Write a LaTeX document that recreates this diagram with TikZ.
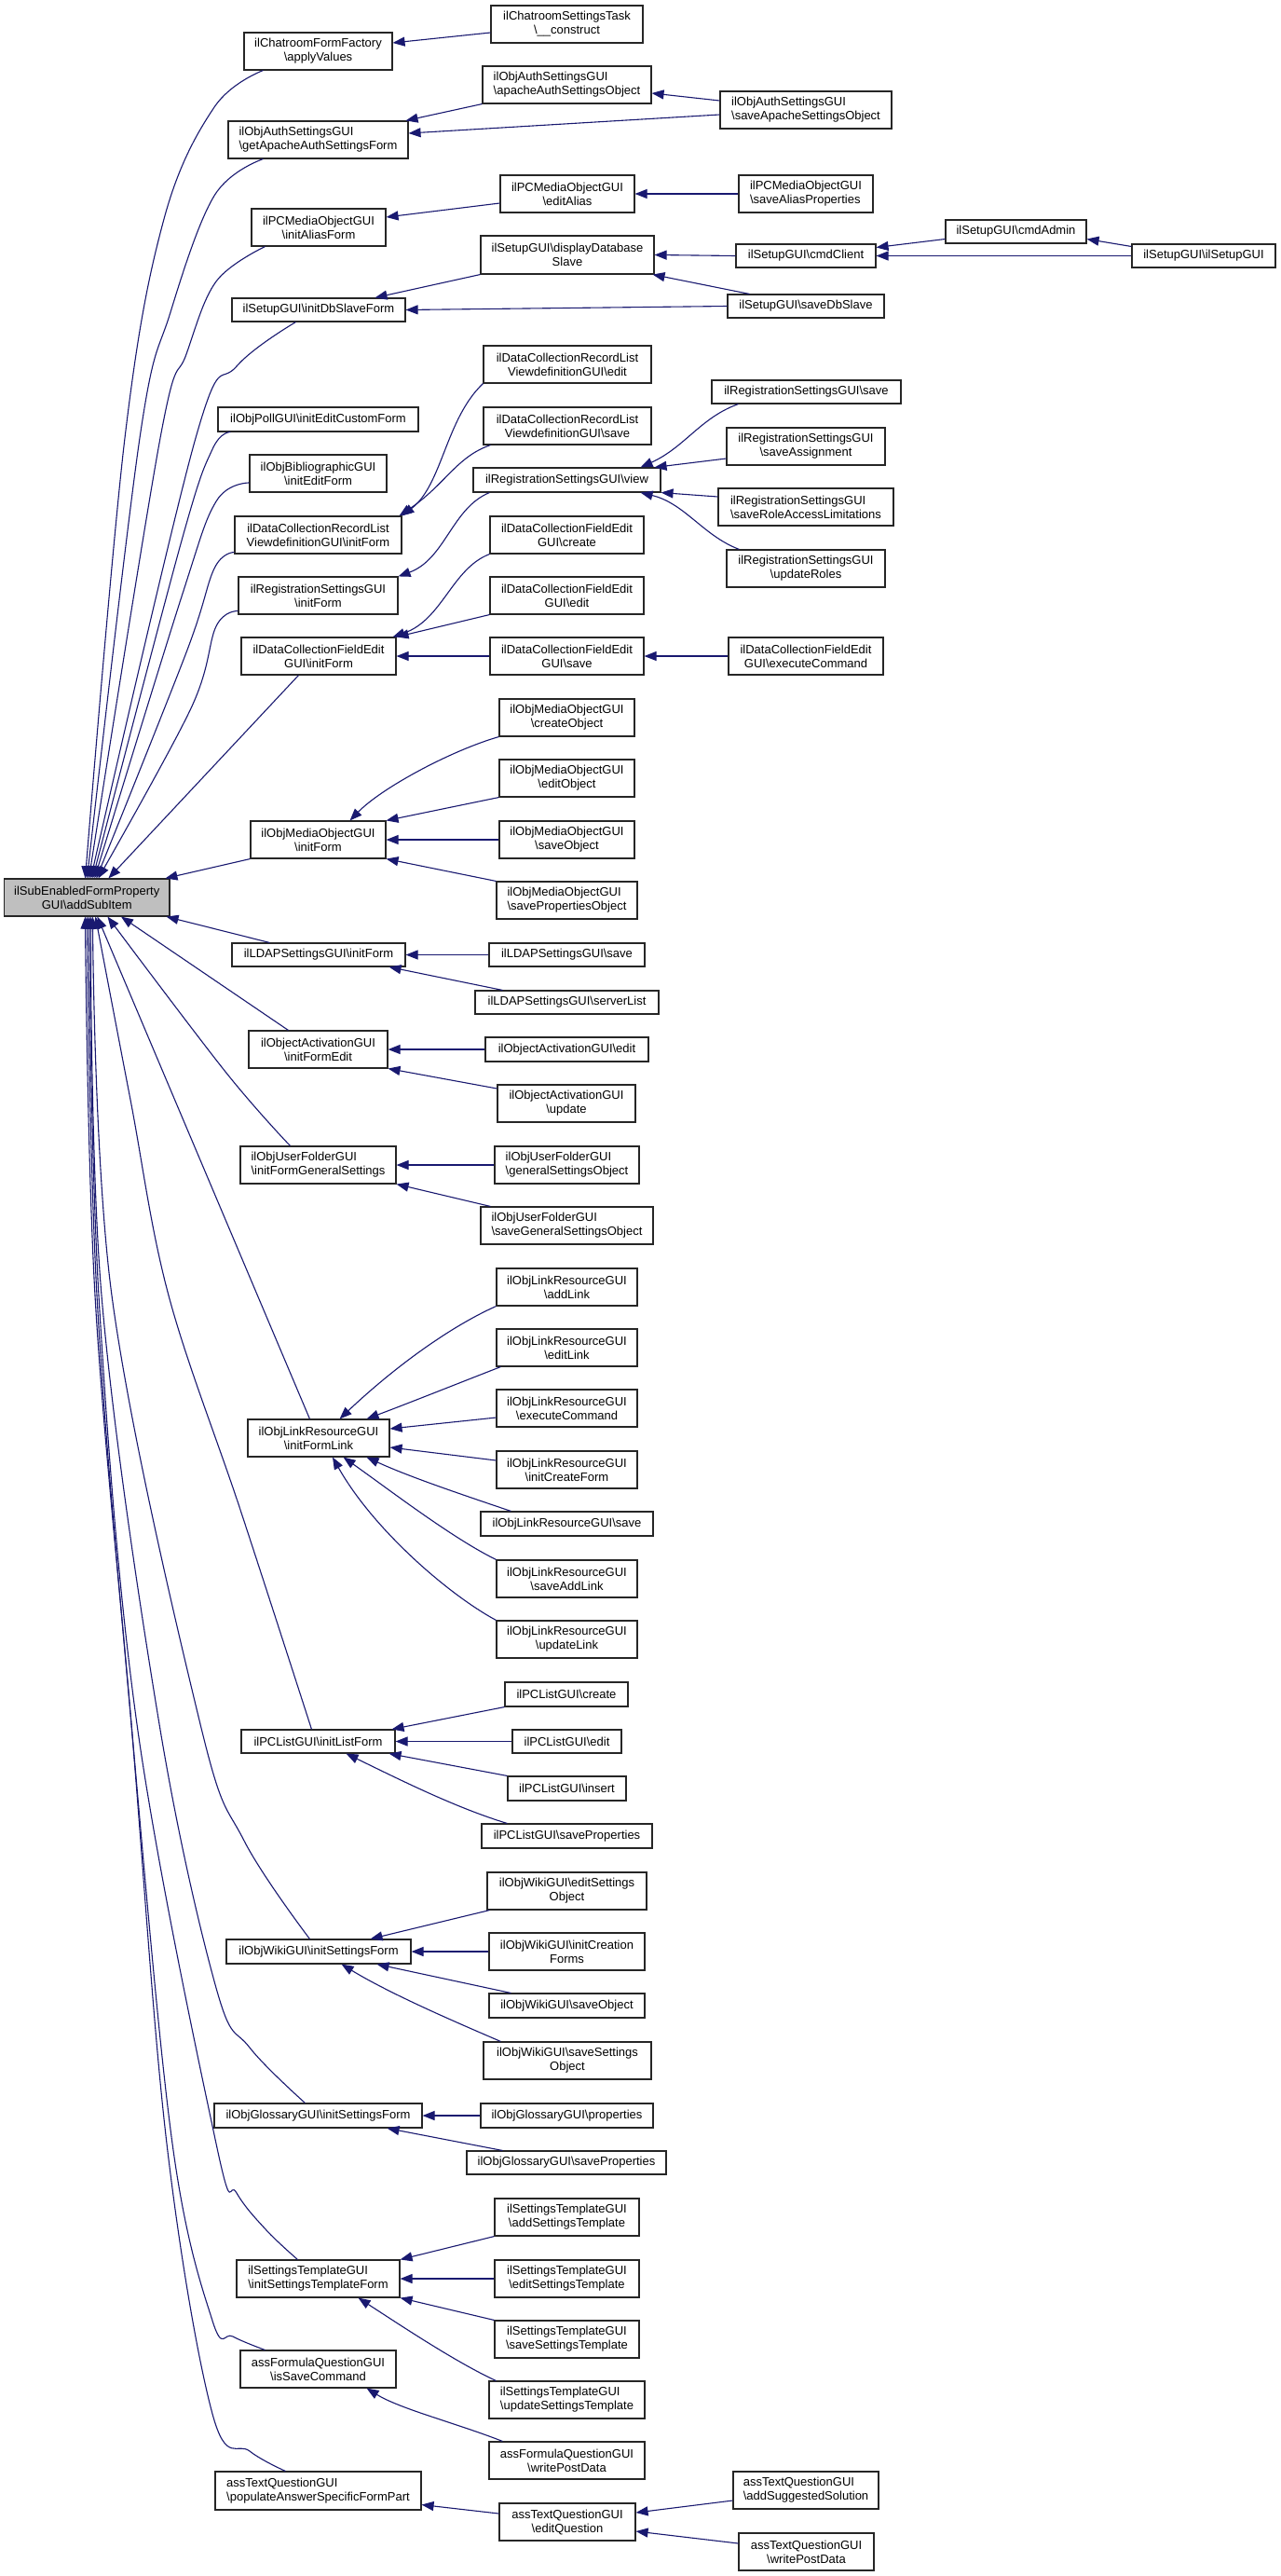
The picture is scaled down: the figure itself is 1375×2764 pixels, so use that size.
\documentclass[tikz,border=0pt]{standalone}
\usepackage{fontspec}
\setmainfont{Liberation Sans}
\usetikzlibrary{arrows.meta}
\definecolor{edgeblue}{HTML}{191970}
\definecolor{rootgray}{HTML}{BFBFBF}
\tikzset{
  box/.style={draw=black!85, line width=1.1pt, fill=white, inner sep=0pt, align=center, font=\fontsize{13pt}{15pt}\selectfont},
  lbox/.style={box, align=left},
  rootbox/.style={box, fill=rootgray},
  conn/.style={draw=edgeblue, line width=1.1pt, -{Triangle[length=13pt,width=10pt]}},
}
\newcommand{\dbox}[7][box]{\node[#1, minimum width={(#5-#4)*1pt}, minimum height={(#7-#6)*1pt}] (#2) at ({(#4+#5)/2},{(#6+#7)/2}) {#3};}
\newcommand{\bs}{\textbackslash}
\begin{document}
\begin{tikzpicture}[x=1pt,y=-1pt]
\fill[white] (0,0) rectangle (1375,2764);
\useasboundingbox (0,0) rectangle (1375,2764);

% root
\dbox[rootbox]{R}{ilSubEnabledFormProperty\\GUI\bs addSubItem}{4.5}{182}{943}{983}

% column 2
\dbox{a1}{ilChatroomFormFactory\\\bs applyValues}{262}{421}{35}{75}
\dbox[lbox]{a2}{ilObjAuthSettingsGUI\\\bs getApacheAuthSettingsForm}{245}{438}{130}{170}
\dbox{a3}{ilPCMediaObjectGUI\\\bs initAliasForm}{270}{414}{224}{264}
\dbox{a4}{ilSetupGUI\bs initDbSlaveForm}{249}{435}{320}{345}
\dbox{a5}{ilObjPollGUI\bs initEditCustomForm}{234}{449}{437}{463}
\dbox{a6}{ilObjBibliographicGUI\\\bs initEditForm}{268}{415}{488}{528}
\dbox{a7}{ilDataCollectionRecordList\\ViewdefinitionGUI\bs initForm}{252}{431}{554}{594}
\dbox{a8}{ilRegistrationSettingsGUI\\\bs initForm}{256}{427}{619}{659}
\dbox{a9}{ilDataCollectionFieldEdit\\GUI\bs initForm}{259}{425}{684}{724}
\dbox{a10}{ilObjMediaObjectGUI\\\bs initForm}{269}{414}{881}{921}
\dbox{a11}{ilLDAPSettingsGUI\bs initForm}{249}{435}{1012}{1037}
\dbox{a12}{ilObjectActivationGUI\\\bs initFormEdit}{267}{416}{1106}{1146}
\dbox[lbox]{a13}{ilObjUserFolderGUI\\\bs initFormGeneralSettings}{258}{425}{1230}{1270}
\dbox{a14}{ilObjLinkResourceGUI\\\bs initFormLink}{266}{418}{1523}{1563}
\dbox{a15}{ilPCListGUI\bs initListForm}{259}{424}{1856}{1881}
\dbox{a16}{ilObjWikiGUI\bs initSettingsForm}{243}{441}{2081}{2107}
\dbox{a17}{ilObjGlossaryGUI\bs initSettingsForm}{230}{453}{2257}{2283}
\dbox[lbox]{a18}{ilSettingsTemplateGUI\\\bs initSettingsTemplateForm}{254}{429}{2425}{2465}
\dbox{a19}{assFormulaQuestionGUI\\\bs isSaveCommand}{258}{425}{2522}{2562}
\dbox[lbox]{a20}{assTextQuestionGUI\\\bs populateAnswerSpecificFormPart}{231}{452}{2652}{2693}

% column 3
\dbox{b1}{ilChatroomSettingsTask\\\bs\_\_construct}{527}{690}{6}{46}
\dbox[lbox]{b2}{ilObjAuthSettingsGUI\\\bs apacheAuthSettingsObject}{518}{699}{71}{111}
\dbox{b3}{ilPCMediaObjectGUI\\\bs editAlias}{537}{681}{188}{228}
\dbox{b4}{ilSetupGUI\bs displayDatabase\\Slave}{516}{702}{253}{294}
\dbox{b5}{ilDataCollectionRecordList\\ViewdefinitionGUI\bs edit}{519}{699}{371}{411}
\dbox{b6}{ilDataCollectionRecordList\\ViewdefinitionGUI\bs save}{519}{699}{437}{477}
\dbox{b7}{ilRegistrationSettingsGUI\bs view}{508}{709}{502}{528}
\dbox{b8}{ilDataCollectionFieldEdit\\GUI\bs create}{526}{691}{554}{594}
\dbox{b9}{ilDataCollectionFieldEdit\\GUI\bs edit}{526}{691}{619}{659}
\dbox{b10}{ilDataCollectionFieldEdit\\GUI\bs save}{526}{691}{684}{724}
\dbox{b11}{ilObjMediaObjectGUI\\\bs createObject}{536}{681}{750}{790}
\dbox{b12}{ilObjMediaObjectGUI\\\bs editObject}{536}{681}{815}{855}
\dbox{b13}{ilObjMediaObjectGUI\\\bs saveObject}{536}{681}{881}{921}
\dbox[lbox]{b14}{ilObjMediaObjectGUI\\\bs savePropertiesObject}{533}{684}{946}{986}
\dbox{b15}{ilLDAPSettingsGUI\bs save}{525}{692}{1012}{1037}
\dbox{b16}{ilLDAPSettingsGUI\bs serverList}{510}{707}{1063}{1088}
\dbox{b17}{ilObjectActivationGUI\bs edit}{521}{696}{1113}{1139}
\dbox{b18}{ilObjectActivationGUI\\\bs update}{534}{682}{1164}{1204}
\dbox[lbox]{b19}{ilObjUserFolderGUI\\\bs generalSettingsObject}{531}{686}{1230}{1270}
\dbox[lbox]{b20}{ilObjUserFolderGUI\\\bs saveGeneralSettingsObject}{516}{701}{1295}{1335}
\dbox{b21}{ilObjLinkResourceGUI\\\bs addLink}{533}{684}{1361}{1401}
\dbox{b22}{ilObjLinkResourceGUI\\\bs editLink}{533}{684}{1426}{1466}
\dbox{b23}{ilObjLinkResourceGUI\\\bs executeCommand}{533}{684}{1491}{1531}
\dbox{b24}{ilObjLinkResourceGUI\\\bs initCreateForm}{533}{684}{1557}{1597}
\dbox{b25}{ilObjLinkResourceGUI\bs save}{516}{701}{1622}{1648}
\dbox{b26}{ilObjLinkResourceGUI\\\bs saveAddLink}{533}{684}{1674}{1714}
\dbox{b27}{ilObjLinkResourceGUI\\\bs updateLink}{533}{684}{1739}{1779}
\dbox{b28}{ilPCListGUI\bs create}{542}{674}{1805}{1831}
\dbox{b29}{ilPCListGUI\bs edit}{550}{667}{1856}{1881}
\dbox{b30}{ilPCListGUI\bs insert}{545}{672}{1906}{1932}
\dbox{b31}{ilPCListGUI\bs saveProperties}{517}{700}{1957}{1983}
\dbox{b32}{ilObjWikiGUI\bs editSettings\\Object}{523}{694}{2009}{2049}
\dbox{b33}{ilObjWikiGUI\bs initCreation\\Forms}{525}{692}{2074}{2114}
\dbox{b34}{ilObjWikiGUI\bs saveObject}{525}{692}{2139}{2165}
\dbox{b35}{ilObjWikiGUI\bs saveSettings\\Object}{519}{699}{2191}{2231}
\dbox{b36}{ilObjGlossaryGUI\bs properties}{516}{701}{2257}{2283}
\dbox{b37}{ilObjGlossaryGUI\bs saveProperties}{501}{715}{2308}{2333}
\dbox{b38}{ilSettingsTemplateGUI\\\bs addSettingsTemplate}{531}{686}{2359}{2399}
\dbox{b39}{ilSettingsTemplateGUI\\\bs editSettingsTemplate}{531}{686}{2425}{2465}
\dbox{b40}{ilSettingsTemplateGUI\\\bs saveSettingsTemplate}{531}{686}{2490}{2530}
\dbox[lbox]{b41}{ilSettingsTemplateGUI\\\bs updateSettingsTemplate}{525}{692}{2555}{2595}
\dbox{b42}{assFormulaQuestionGUI\\\bs writePostData}{525}{692}{2620}{2660}
\dbox{b43}{assTextQuestionGUI\\\bs editQuestion}{536}{682}{2686}{2726}

% column 4
\dbox[lbox]{c1}{ilObjAuthSettingsGUI\\\bs saveApacheSettingsObject}{773}{957}{98}{138}
\dbox[lbox]{c2}{ilPCMediaObjectGUI\\\bs saveAliasProperties}{793}{937}{188}{228}
\dbox{c3}{ilSetupGUI\bs cmdClient}{790}{940}{262}{287}
\dbox{c4}{ilSetupGUI\bs saveDbSlave}{781}{949}{316}{341}
\dbox{c5}{ilRegistrationSettingsGUI\bs save}{764}{967}{408}{433}
\dbox{c6}{ilRegistrationSettingsGUI\\\bs saveAssignment}{780}{950}{459}{499}
\dbox[lbox]{c7}{ilRegistrationSettingsGUI\\\bs saveRoleAccessLimitations}{771}{959}{524}{564}
\dbox{c8}{ilRegistrationSettingsGUI\\\bs updateRoles}{780}{950}{590}{630}
\dbox{c9}{ilDataCollectionFieldEdit\\GUI\bs executeCommand}{782}{948}{684}{724}
\dbox[lbox]{c10}{assTextQuestionGUI\\\bs addSuggestedSolution}{787}{943}{2652}{2692}
\dbox{c11}{assTextQuestionGUI\\\bs writePostData}{793}{938}{2718}{2758}

% columns 5, 6
\dbox{d1}{ilSetupGUI\bs cmdAdmin}{1015}{1166}{236}{261}
\dbox{e1}{ilSetupGUI\bs ilSetupGUI}{1215}{1369}{262}{287}

% ---- edges among columns ----
\draw[conn] ([yshift=-9pt]b1.west) -- ([yshift=9pt]a1.east);
\draw[conn] (b2.south west) -- ([xshift=-3pt]a2.north east);
\draw[conn] ([yshift=-5pt]c1.west) -- ([yshift=7pt]a2.east);
\draw[conn] ([yshift=10pt]c1.west) -- ([yshift=-9pt]b2.east);
\draw[conn] ([yshift=-10pt]b3.west) -- ([yshift=11pt]a3.east);
\draw[conn] (c2.west) -- (b3.east);
\draw[conn] (b4.south west) -- ([xshift=-33pt]a4.north east);
\draw[conn] (c4.west) -- (a4.east);
\draw[conn] ([xshift=24pt]c4.north west) -- ([xshift=-2pt]b4.south east);
\draw[conn] (c3.west) -- (b4.east);
\draw[conn] ([yshift=-8pt]d1.west) -- ([yshift=9pt]c3.east);
\draw[conn] (e1.west) -- (c3.east);
\draw[conn] ([yshift=10pt]e1.west) -- ([yshift=-8pt]d1.east);

\draw[conn] (b5.south west) .. controls (478,450) and (475,520) .. (a7.north east);
\draw[conn] ([xshift=8pt]b6.south west) .. controls (490,490) and (478,520) .. ([xshift=-3pt]a7.north east);
\draw[conn] ([xshift=18pt]b7.south west) .. controls (485,545) and (478,600) .. (a8.north east);
\draw[conn] ([xshift=29pt]c5.south west) .. controls (752,448) and (735,480) .. ([xshift=-22pt]b7.north east);
\draw[conn] ([yshift=-13pt]c6.west) -- ([xshift=-7pt]b7.north east);
\draw[conn] ([yshift=11pt]c7.west) -- (b7.south east);
\draw[conn] ([xshift=14pt]c8.north west) .. controls (755,575) and (735,540) .. ([xshift=-22pt]b7.south east);

\draw[conn] (b8.south west) .. controls (485,610) and (475,665) .. ([xshift=-4pt]a9.north east);
\draw[conn] (b9.south west) -- (a9.north east);
\draw[conn] (b10.west) -- (a9.east);
\draw[conn] (c9.west) -- (b10.east);

\draw[conn] (b11.south west) .. controls (485,805) and (410,845) .. ([xshift=-39pt]a10.north east);
\draw[conn] (b12.south west) -- (a10.north east);
\draw[conn] (b13.west) -- (a10.east);
\draw[conn] (b14.north west) -- (a10.south east);

\draw[conn] (b15.west) -- (a11.east);
\draw[conn] ([xshift=30pt]b16.north west) -- ([xshift=-18pt]a11.south east);
\draw[conn] (b17.west) -- (a12.east);
\draw[conn] ([yshift=16pt]b18.west) -- (a12.south east);
\draw[conn] (b19.west) -- (a13.east);
\draw[conn] ([xshift=11pt]b20.north west) -- (a13.south east);

\draw[conn] (b21.south west) .. controls (480,1425) and (420,1470) .. ([xshift=-54pt]a14.north east);
\draw[conn] ([xshift=5pt]b22.south west) .. controls (490,1485) and (440,1505) .. ([xshift=-25pt]a14.north east);
\draw[conn] ([yshift=-10pt]b23.west) -- ([yshift=10pt]a14.east);
\draw[conn] ([yshift=10pt]b24.west) -- ([yshift=-10pt]a14.east);
\draw[conn] ([xshift=33pt]b25.north west) .. controls (500,1605) and (440,1585) .. ([xshift=-25pt]a14.south east);
\draw[conn] (b26.north west) .. controls (485,1650) and (420,1600) .. ([xshift=-50pt]a14.south east);
\draw[conn] (b27.north west) .. controls (480,1710) and (400,1640) .. ([xshift=15pt]a14.south);

\draw[conn] (b28.south west) -- ([xshift=-4pt]a15.north east);
\draw[conn] (b29.west) -- (a15.east);
\draw[conn] (b30.north west) -- ([xshift=-7pt]a15.south east);
\draw[conn] ([xshift=28pt]b31.north west) .. controls (490,1940) and (430,1910) .. ([xshift=-53pt]a15.south east);

\draw[conn] ([xshift=3pt]b32.south west) -- ([xshift=-44pt]a16.north east);
\draw[conn] (b33.west) -- (a16.east);
\draw[conn] ([xshift=24pt]b34.north west) -- ([xshift=-37pt]a16.south east);
\draw[conn] ([xshift=19pt]b35.north west) .. controls (490,2170) and (420,2140) .. ([xshift=-75pt]a16.south east);

\draw[conn] (b36.west) -- (a17.east);
\draw[conn] ([xshift=39pt]b37.north west) -- ([xshift=-38pt]a17.south east);

\draw[conn] (b38.south west) -- (a18.north east);
\draw[conn] (b39.west) -- (a18.east);
\draw[conn] (b40.north west) -- (a18.south east);
\draw[conn] ([xshift=8pt]b41.north west) .. controls (490,2535) and (430,2495) .. ([xshift=-45pt]a18.south east);

\draw[conn] ([xshift=15pt]b42.north west) .. controls (490,2600) and (430,2585) .. ([xshift=-32pt]a19.south east);

\draw[conn] ([yshift=9pt]b43.west) -- ([yshift=-15pt]a20.east);
\draw[conn] ([yshift=-11pt]c10.west) -- ([yshift=10pt]b43.east);
\draw[conn] ([yshift=9pt]c11.west) -- ([yshift=-10pt]b43.east);

% ---- edges into the root ----
\draw[conn] plot[smooth, tension=0.6] coordinates {([xshift=21pt]a1.south west) (230,115) (176,235) (134,470) ([xshift=87.5pt]R.north west)};
\draw[conn] plot[smooth, tension=0.6] coordinates {([xshift=38pt]a2.south west) (230,210) (183,335) (150,470) ([xshift=89.5pt]R.north west)};
\draw[conn] plot[smooth, tension=0.6] coordinates {([xshift=15pt]a3.south west) (232,302) (200,380) (172,470) ([xshift=91.5pt]R.north west)};
\draw[conn] plot[smooth, tension=0.6] coordinates {([xshift=69pt]a4.south west) (254,393) (210,470) ([xshift=93.5pt]R.north west)};
\draw[conn] plot[smooth, tension=0.6] coordinates {([xshift=14pt]a5.south west) (228,482) (195,580) ([xshift=95.5pt]R.north west)};
\draw[conn] plot[smooth, tension=0.6] coordinates {([yshift=-10pt]a6.west) (232,538) (195,640) ([xshift=97.5pt]R.north west)};
\draw[conn] plot[smooth, tension=0.6] coordinates {([yshift=2pt]a7.south west) (230,610) (200,700) ([xshift=99.5pt]R.north west)};
\draw[conn] plot[smooth, tension=0.6] coordinates {([yshift=4pt]a8.south west) (232,672) (205,760) ([xshift=101.5pt]R.north west)};
\draw[conn] ([xshift=62pt]a9.south west) -- ([xshift=112.5pt]R.north west);
\draw[conn] (a10.south west) -- ([xshift=173.5pt]R.north west);

\draw[conn] ([xshift=41pt]a11.north west) -- ([xshift=-4pt]R.south east);
\draw[conn] ([xshift=43pt]a12.north west) -- ([xshift=126pt]R.south west);
\draw[conn] plot[smooth, tension=0.6] coordinates {([xshift=54pt]a13.north west) (242,1150) ([xshift=111.5pt]R.south west)};
\draw[conn] ([xshift=67pt]a14.north west) -- ([xshift=100.5pt]R.south west);
\draw[conn] plot[smooth, tension=0.6] coordinates {([xshift=76pt]a15.north west) (258,1620) (181,1390) (140,1180) ([xshift=98.5pt]R.south west)};
\draw[conn] plot[smooth, tension=0.6] coordinates {([xshift=90pt]a16.north west) (262,1975) (215,1850) (120,1390) ([xshift=95.5pt]R.south west)};
\draw[conn] plot[smooth, tension=0.6] coordinates {([xshift=98pt]a17.north west) (268,2197) (232,2133) (171,1850) (109,1390) ([xshift=93.5pt]R.south west)};
\draw[conn] plot[smooth, tension=0.6] coordinates {([xshift=66pt]a18.north west) (286,2393) (254,2353) (232,2300) (147,1850) (106,1390) ([xshift=91.5pt]R.south west)};
\draw[conn] plot[smooth, tension=0.6] coordinates {([xshift=27pt]a19.north west) (250,2507) (228,2490) (185,2300) (141,1850) (104,1390) ([xshift=89.5pt]R.south west)};
\draw[conn] plot[smooth, tension=0.6] coordinates {([xshift=76pt]a20.north west) (268,2630) (228,2590) (179,2300) (141,1850) (102,1390) ([xshift=87.5pt]R.south west)};
\end{tikzpicture}
\end{document}
